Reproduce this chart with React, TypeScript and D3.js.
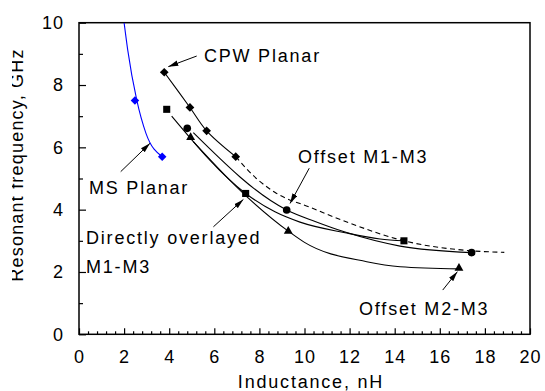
import React, { useEffect, useRef } from 'react'
import { select, scaleLinear, axisLeft, axisBottom, line, curveCatmullRom, curveMonotoneX, symbol, symbolSquare, symbolCircle, symbolTriangle, range } from 'd3'

// values: inductance in nH, resonant frequency in GHz
const msInd = [2.48, 3.69]
const msFreq = [7.5, 5.7]
const msFitInd = [2.0, 2.16, 2.56, 2.97, 3.69]
const msFitFreq = [10, 9.13, 7.52, 6.45, 5.7]

const cpwInd = [3.78, 4.92, 5.66, 6.95]
const cpwFreq = [8.41, 7.28, 6.53, 5.7]
// dashed continuation of the CPW trend
const cpwExtInd = [6.95, 7.9, 8.7, 10.3, 12.0, 14.41, 17.4, 18.86]
const cpwExtFreq = [5.7, 4.98, 4.55, 4.06, 3.57, 3.0, 2.68, 2.63]

const directInd = [3.89, 7.39, 14.41]
const directFreq = [7.22, 4.52, 3.0]
const directFitInd = [4.11, 7.39, 8.69, 9.8, 11.8, 13.35, 14.41]
const directFitFreq = [7.0, 4.52, 3.93, 3.6, 3.26, 3.06, 3.0]

const m13Ind = [4.8, 9.21, 17.41]
const m13Freq = [6.61, 3.99, 2.62]
const m13FitInd = [5.07, 9.21, 10.47, 11.8, 14.24, 17.41]
const m13FitFreq = [6.47, 3.99, 3.62, 3.28, 2.83, 2.62]

const m23Ind = [4.95, 9.28, 16.85]
const m23Freq = [6.32, 3.31, 2.12]
const m23FitInd = [5.07, 7.39, 9.28, 10.0, 12.76, 14.24, 16.85]
const m23FitFreq = [6.18, 4.45, 3.31, 2.95, 2.33, 2.17, 2.1]

const xMajor = [0, 2, 4, 6, 8, 10, 12, 14, 16, 18, 20]
const yMajor = [0, 2, 4, 6, 8, 10]

// annotation labels, placed in data units (start of text, baseline)
const noteText = ['CPW Planar', 'Offset M1-M3', 'MS Planar', 'Directly overlayed', 'M1-M3', 'Offset M2-M3']
const noteX = [5.54, 9.71, 0.44, 0.31, 0.31, 12.42]
const noteY = [8.74, 5.5, 4.5, 2.9, 1.98, 0.62]

// arrows: tail -> head, data units
const arrowFrom = [[5.22, 8.93], [1.85, 5.22], [5.96, 3.45], [10.21, 5.33], [16.13, 1.42]]
const arrowTo = [[3.96, 8.59], [3.15, 6.13], [7.29, 4.33], [9.36, 4.2], [16.78, 2.01]]

const FONT = '"Liberation Sans", Arial, sans-serif'

const App = () => {
    const ref = useRef<SVGSVGElement>(null)

    useEffect(() => {
        const svg = select(ref.current)
        svg.selectAll('*').remove()

        const x = scaleLinear().domain([0, 20]).range([79, 530])
        const y = scaleLinear().domain([0, 10]).range([334.3, 22.7])

        const defs = svg.append('defs')
        defs.append('clipPath').attr('id', 'plotclip')
            .append('rect').attr('x', x(0)).attr('y', y(10)).attr('width', x(20) - x(0)).attr('height', y(0) - y(10))
        defs.append('clipPath').attr('id', 'ylabclip')
            .append('rect').attr('x', 12).attr('y', 0).attr('width', 60).attr('height', 391)
        defs.append('marker').attr('id', 'arrowhead')
            .attr('markerUnits', 'userSpaceOnUse')
            .attr('markerWidth', 11).attr('markerHeight', 6)
            .attr('refX', 10).attr('refY', 3).attr('orient', 'auto')
            .append('path').attr('d', 'M0,0.3 L10,3 L0,5.7 Z').attr('fill', '#000')

        // axes, ticks pointing inwards
        const minorX = range(0, 51).filter(i => i % 5 !== 0).map(i => i * 0.4)
        const minorY = [1, 3, 5, 7, 9]

        const gx = svg.append('g').attr('transform', `translate(0,${y(0)})`)
            .call(axisBottom(x).tickValues(xMajor).tickSize(-6).tickSizeOuter(0).tickPadding(15.5).tickFormat((d: any) => `${d}`))
        const gxm = svg.append('g').attr('transform', `translate(0,${y(0)})`)
            .call(axisBottom(x).tickValues(minorX).tickSize(-3).tickSizeOuter(0).tickFormat(() => ''))
        const gy = svg.append('g').attr('transform', `translate(${x(0)},0)`)
            .call(axisLeft(y).tickValues(yMajor).tickSize(-7).tickSizeOuter(0).tickPadding(15).tickFormat((d: any) => `${d}`))
        const gym = svg.append('g').attr('transform', `translate(${x(0)},0)`)
            .call(axisLeft(y).tickValues(minorY).tickSize(-4).tickSizeOuter(0).tickFormat(() => ''))

        for (const g of [gx, gxm, gy, gym]) {
            g.select('.domain').remove()
            g.selectAll('line').attr('stroke', '#000').attr('stroke-width', 1.2)
            g.selectAll('text').attr('font-family', FONT).attr('font-size', 18).attr('fill', '#000').attr('letter-spacing', 1)
        }

        svg.append('rect')
            .attr('x', x(0)).attr('y', y(10))
            .attr('width', x(20) - x(0)).attr('height', y(0) - y(10))
            .attr('fill', 'none').attr('stroke', '#000').attr('stroke-width', 1.5)

        svg.append('text')
            .attr('x', 311).attr('y', 388)
            .attr('text-anchor', 'middle')
            .attr('font-family', FONT).attr('font-size', 18).attr('letter-spacing', 1.8)
            .text('Inductance, nH')

        svg.append('g').attr('clip-path', 'url(#ylabclip)')
            .append('text')
            .attr('transform', 'translate(23,165) rotate(-90)')
            .attr('text-anchor', 'middle')
            .attr('font-family', FONT).attr('font-size', 18).attr('letter-spacing', 1.2)
            .text('Resonant frequency, GHz')

        // curves
        const plot = svg.append('g').attr('clip-path', 'url(#plotclip)')
        const drawCurve = (xs: number[], ys: number[], color: string, curve: any, dash?: string) => {
            const pts = xs.map((v, i) => [x(v), y(ys[i])] as [number, number])
            plot.append('path')
                .attr('d', line().curve(curve)(pts))
                .attr('fill', 'none')
                .attr('stroke', color)
                .attr('stroke-width', 1.1)
                .attr('stroke-dasharray', dash || null)
        }

        drawCurve(msFitInd, msFitFreq, '#0000ff', curveMonotoneX)
        drawCurve(cpwInd, cpwFreq, '#000', curveCatmullRom.alpha(0.5))
        drawCurve(cpwExtInd, cpwExtFreq, '#000', curveMonotoneX, '5,3.5')
        drawCurve(directFitInd, directFitFreq, '#000', curveMonotoneX)
        drawCurve(m13FitInd, m13FitFreq, '#000', curveMonotoneX)
        drawCurve(m23FitInd, m23FitFreq, '#000', curveMonotoneX)

        // markers
        const drawMarks = (xs: number[], ys: number[], type: any, size: number, color: string, rot = 0) => {
            svg.append('g').selectAll('path').data(xs)
                .join('path')
                .attr('transform', (d, i) => `translate(${x(d)},${y(ys[i])}) rotate(${rot})`)
                .attr('d', symbol().type(type).size(size)())
                .attr('fill', color)
        }
        drawMarks(msInd, msFreq, symbolSquare, 36, '#0000ff', 45)
        drawMarks(cpwInd, cpwFreq, symbolSquare, 38, '#000', 45)
        drawMarks(directInd, directFreq, symbolSquare, 50, '#000')
        drawMarks(m13Ind, m13Freq, symbolCircle, 46, '#000')
        drawMarks(m23Ind, m23Freq, symbolTriangle, 34, '#000')

        // arrows
        svg.append('g').selectAll('line').data(arrowFrom)
            .join('line')
            .attr('x1', d => x(d[0])).attr('y1', d => y(d[1]))
            .attr('x2', (d, i) => x(arrowTo[i][0])).attr('y2', (d, i) => y(arrowTo[i][1]))
            .attr('stroke', '#000').attr('stroke-width', 1)
            .attr('marker-end', 'url(#arrowhead)')

        // labels
        svg.append('g').selectAll('text').data(noteText)
            .join('text')
            .attr('x', (d, i) => x(noteX[i])).attr('y', (d, i) => y(noteY[i]))
            .attr('font-family', FONT).attr('font-size', 18).attr('letter-spacing', 1.8)
            .text(d => d)
    }, [])

    return (
        <svg ref={ref} width={545} height={391}
            style={{ position: 'absolute', left: 0, top: 0, background: '#fff' }} />
    )
}

export default App
